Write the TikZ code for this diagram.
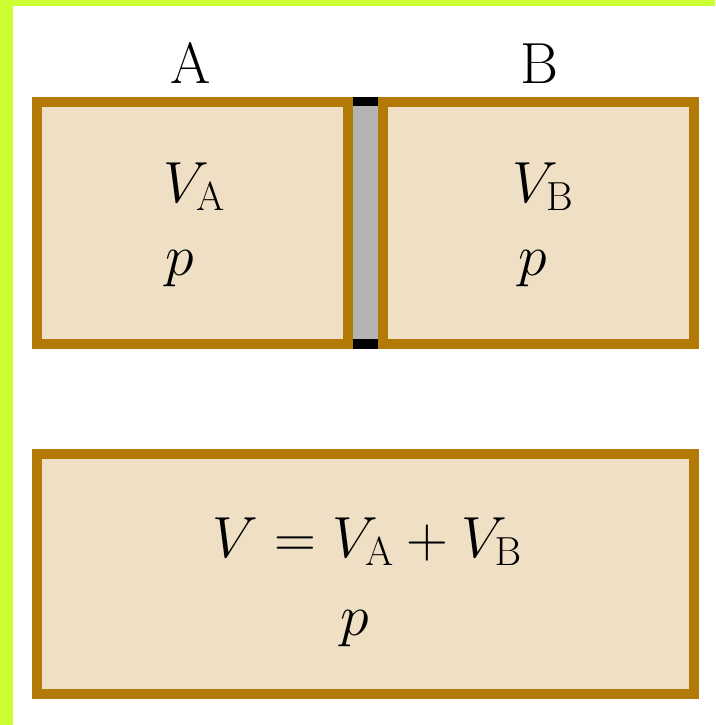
\RequirePackage{fix-cm}
\documentclass[tikz,border=0pt]{standalone}
\usepackage{amsmath}
\usepackage{tikz}
\usetikzlibrary{positioning}
\definecolor{gasfill}{HTML}{EEDFC5}
\definecolor{gasedge}{HTML}{B47A08}
\definecolor{wallgray}{HTML}{B3B3B3}
\definecolor{framegreen}{HTML}{CCFF33}
\tikzset{
  vessel/.style={draw=gasedge,fill=gasfill,line width=10pt},
  wall/.style={fill=wallgray},
  wallend/.style={fill=black},
  tag/.style={font=\fontsize{58}{70}\selectfont,anchor=base,inner sep=0pt}
}

\begin{document}
\begin{tikzpicture}[x=1pt,y=-1pt]
\useasboundingbox (0,0) rectangle (715,725);
\fill[white] (0,0) rectangle (715,725);
\fill[framegreen] (0,0) rectangle (13,725);
\fill[framegreen] (0,0) rectangle (715,6);
% two parts, with the wall between them
\draw[vessel] (37,101.5) rectangle (348,344);
\draw[vessel] (383,101.5) rectangle (694,344);
\fill[wall] (353,97) rectangle (378,349);
\fill[wallend] (353,97) rectangle (378,106);
\fill[wallend] (353,339) rectangle (378,349);
% joined volume
\draw[vessel] (37,454) rectangle (694,693.5);
\node[tag] (tagA) at (191,83) {A};
\node[tag] (tagB) at (539,83) {B};
\node[tag] (volA) at (194,202) {$V_{\mathrm{A}}$};
\node[tag] (presA) at (180,275) {$p$};
\node[tag] (volB) at (543,202) {$V_{\mathrm{B}}$};
\node[tag] (presB) at (533,275) {$p$};
\node[tag] (volsum) at (367,557) {$V = V_{\mathrm{A}} + V_{\mathrm{B}}$};
\node[tag] (pressum) at (355,635) {$p$};
\end{tikzpicture}
\end{document}
